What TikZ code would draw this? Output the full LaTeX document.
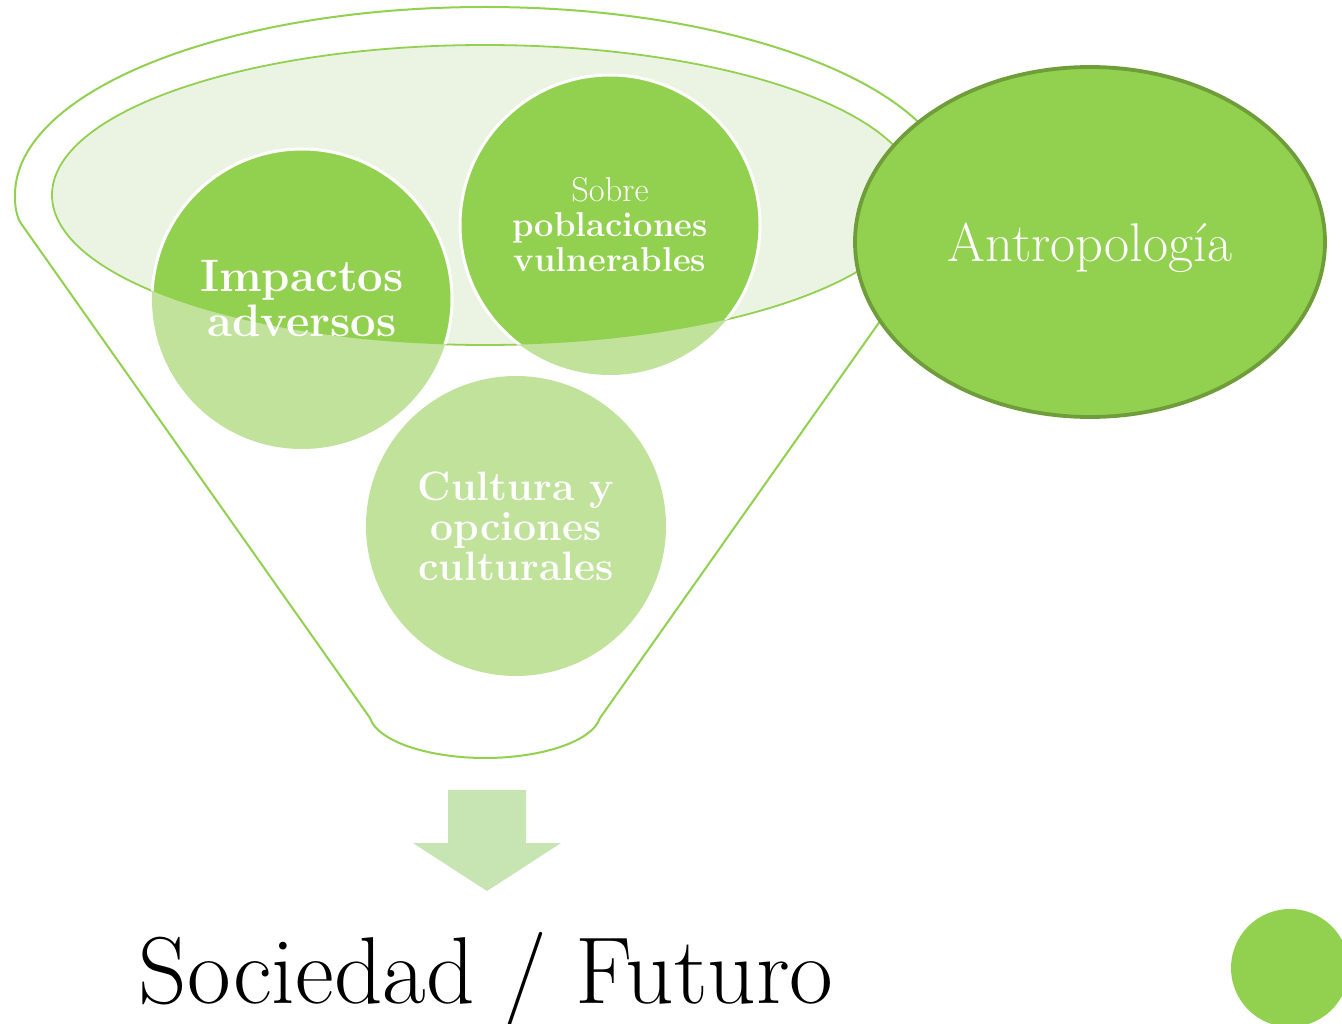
\documentclass[tikz,border=0pt]{standalone}
\usepackage{fontspec}
\usepackage{tikz}
\usetikzlibrary{shapes.geometric}

\definecolor{leaf}{HTML}{92D050}
\definecolor{paleleaf}{HTML}{C0E29B}
\definecolor{rimfill}{HTML}{EBF4E3}
\definecolor{arrowleaf}{HTML}{C6E5B3}
\definecolor{darkleaf}{HTML}{6E9D3A}

\tikzset{
    funnelline/.style={draw=leaf, line width=2pt},
    bubble/.style={circle, minimum size=300pt, inner sep=0pt, align=center, text=white},
}

\begin{document}
\begin{tikzpicture}[x=1pt,y=1pt]
            \useasboundingbox (0,0) rectangle (1342,-1024);

            % funnel outline
            \draw[funnelline] (20,-222)
                -- (370,-718)
                .. controls (378,-742) and (430,-758) .. (485,-758)
                .. controls (540,-758) and (592,-742) .. (600,-718)
                -- (950,-222)
                .. controls (955,-212) and (955,-202) .. (955,-195)
                arc[start angle=0, end angle=180, x radius=470, y radius=188]
                .. controls (15,-202) and (15,-212) .. (20,-222);

            % rim
            \filldraw[fill=rimfill, draw=leaf, line width=1.8pt] (485,-195) ellipse [x radius=433, y radius=150];

            \node[bubble, fill=paleleaf] (impactos) at (302,-299) {};
            \node[bubble, fill=paleleaf] (sobre) at (610,-225) {};
            \node[bubble, fill=paleleaf] (cultura) at (516,-526) {};

            \begin{scope}
                \clip (485,-195) ellipse [x radius=433, y radius=150];
                \filldraw[fill=leaf, draw=white, line width=3pt] (impactos.center) circle (150);
                \filldraw[fill=leaf, draw=white, line width=3pt] (sobre.center) circle (150);
            \end{scope}

            \node[text=white, align=center, font=\fontsize{45.5}{45}\selectfont\bfseries] at (impactos) {Impactos\\adversos};
            \node[text=white, align=center, font=\fontsize{34.5}{35}\selectfont] at (sobre) {Sobre\\\textbf{poblaciones}\\\textbf{vulnerables}};
            \node[text=white, align=center, font=\fontsize{41}{40}\selectfont\bfseries] at (cultura) {Cultura y\\opciones\\culturales};

            \node[ellipse, minimum width=470pt, minimum height=350pt, fill=leaf, draw=darkleaf, line width=3.8pt,
                text=white, text depth=0pt, font=\fontsize{54.5}{55}\selectfont] (antropologia) at (1090,-242) {Antropología};

            \fill[arrowleaf] (448,-790)
                -- (526,-790)
                -- (526,-843)
                -- (561,-843)
                -- (487,-891)
                -- (413,-843)
                -- (448,-843)
                -- cycle;

            \node[anchor=base, font=\fontsize{95}{98}\selectfont] (sociedad) at (486,-1003) {Sociedad / Futuro};

            \fill[leaf] (1290,-968) circle (59);
        \end{tikzpicture}
\end{document}
